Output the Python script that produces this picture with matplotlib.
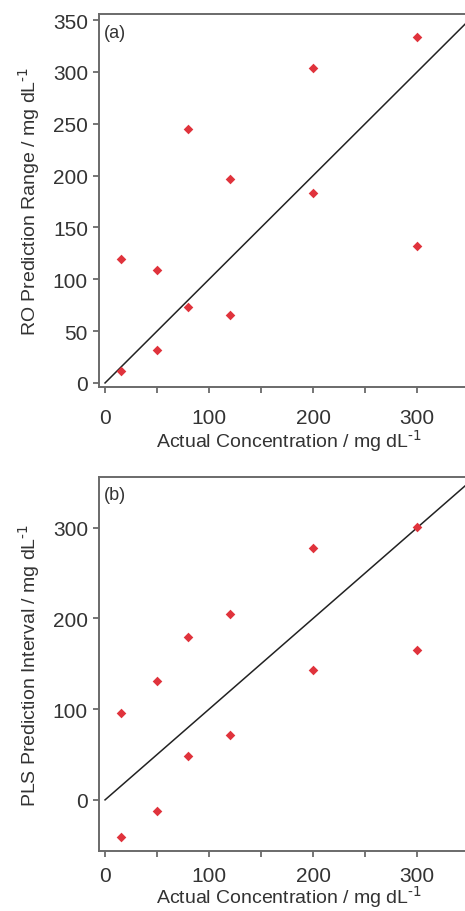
import matplotlib
matplotlib.use('Agg')
import matplotlib.pyplot as plt
import numpy as np

# dados
conc = [15, 50, 80, 120, 200, 300]
ro_alto = [120, 109, 245, 197, 304, 334]
ro_baixo = [12, 32, 73, 66, 183, 132]
pls_alto = [96, 131, 180, 205, 278, 301]
pls_baixo = [-41, -12, 48, 71, 143, 165]
linha_ref = [0, 400]

plt.rcParams['font.family'] = ['Liberation Sans', 'DejaVu Sans']
cinza = '#6a6a6a'
texto = '#333333'
vermelho = '#e0333c'

fig = plt.figure(figsize=(4.65, 9.12), dpi=100)

W, H = 465, 912
unidade = ' / mg dL$^{\\text{-1}}$'


def painel(box, ylim, yticks, alto, baixo, ylabel, letra, ytxt, tpad, xpad):
    ax = fig.add_axes(box)
    ax.plot(linha_ref, linha_ref, color='#222222', lw=1.1)
    ax.scatter(conc, alto, marker='D', s=24, color=vermelho, zorder=3, linewidths=0)
    ax.scatter(conc, baixo, marker='D', s=24, color=vermelho, zorder=3, linewidths=0)
    ax.set_xlim(-5.8, 360)
    ax.set_ylim(*ylim)
    ax.set_xticks([0, 100, 200, 300])
    ax.set_xticks([50, 150, 250], minor=True)
    ax.set_yticks(yticks)
    ax.spines['right'].set_visible(False)
    for s in ['left', 'bottom', 'top']:
        ax.spines[s].set_color(cinza)
        ax.spines[s].set_linewidth(1.4)
    ax.tick_params(axis='both', which='both', direction='out', color=cinza,
                   width=1.3, labelsize=15, labelcolor=texto, length=4)
    ax.tick_params(axis='y', which='major', pad=4)
    ax.tick_params(axis='x', which='major', pad=tpad)
    ax.set_xlabel('Actual Concentration' + unidade, fontsize=14,
                  color=texto, labelpad=xpad)
    ax.set_ylabel(ylabel + unidade, fontsize=14, color=texto, labelpad=8)
    ax.text(0.012, ytxt, letra, transform=ax.transAxes, fontsize=13,
            color=texto, va='top', ha='left')
    return ax


larg = 380.6 / W
painel([99 / W, (H - 388) / H, larg, 373 / H], (-3.9, 355.8),
       [0, 50, 100, 150, 200, 250, 300, 350], ro_alto, ro_baixo,
       'RO Prediction Range', '(a)', 0.972, 11, 0)
painel([99 / W, (H - 851.7) / H, larg, 373.4 / H], (-56, 355.5),
       [0, 100, 200, 300], pls_alto, pls_baixo,
       'PLS Prediction Interval', '(b)', 0.978, 7, -1)

plt.savefig('out.png', dpi=100)
